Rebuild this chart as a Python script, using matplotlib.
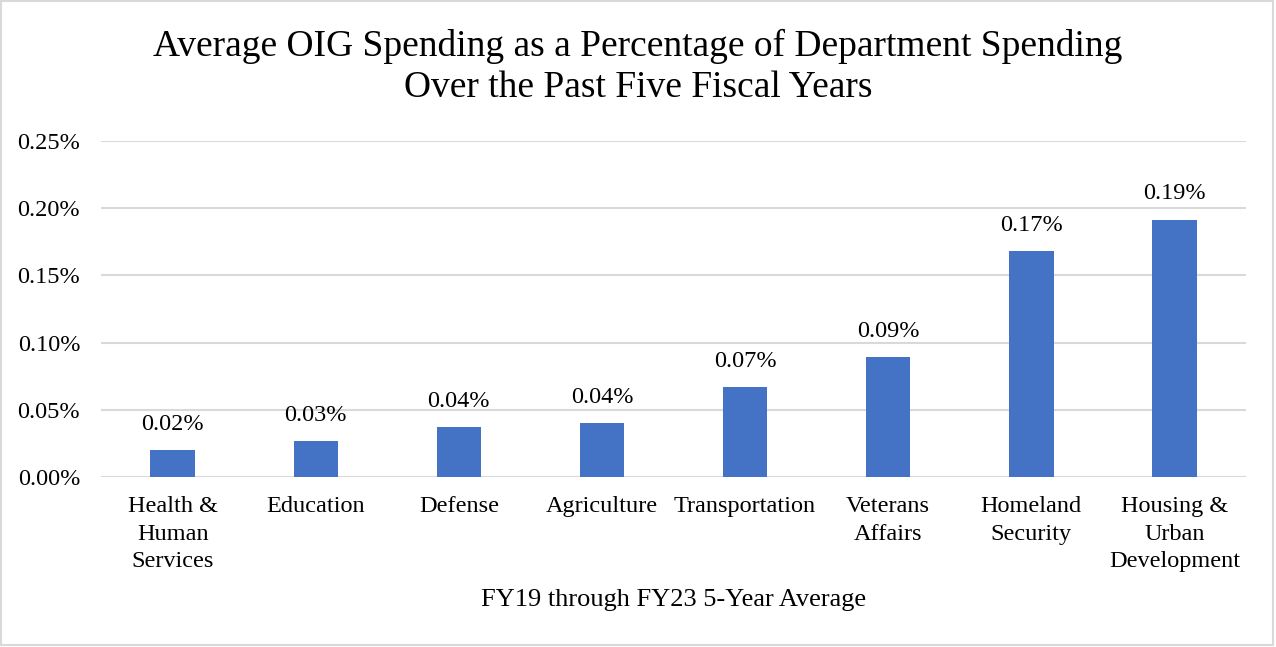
import matplotlib.pyplot as plt
from matplotlib.patches import Rectangle
from matplotlib.ticker import FuncFormatter

plt.rcParams['font.family'] = ['Liberation Serif', 'DejaVu Serif']

departments = ["Health &\nHuman\nServices", "Education", "Defense", "Agriculture",
               "Transportation", "Veterans\nAffairs", "Homeland\nSecurity",
               "Housing &\nUrban\nDevelopment"]
pct_values = [0.0201, 0.0268, 0.0372, 0.0402, 0.0670, 0.0893, 0.1683, 0.1915]
y_ticks = [0.00, 0.05, 0.10, 0.15, 0.20, 0.25]

fig = plt.figure(figsize=(12.76, 6.47), dpi=100)
ax = fig.add_axes([0.0792, 0.2628, 0.8973, 0.5193])

x = range(len(departments))
bars = ax.bar(x, pct_values, width=0.31, color='#4472C4', zorder=3)

# data labels above the bars
for rect, v in zip(bars, pct_values):
    ax.annotate(f"{v:.2f}%", (rect.get_x() + rect.get_width() / 2, rect.get_height()),
                xytext=(0, 11), textcoords='offset points',
                ha='center', va='bottom', fontsize=17.5)

ax.set_xlim(-0.5, len(departments) - 0.5)
ax.set_ylim(0, 0.25)
ax.set_yticks(y_ticks)
ax.yaxis.set_major_formatter(FuncFormatter(lambda v, p: f"{v:.2f}%"))
ax.set_xticks(list(x))
ax.set_xticklabels(departments, fontsize=17.5, linespacing=1.4)
ax.tick_params(axis='y', labelsize=17.5, length=0, pad=15)
ax.tick_params(axis='x', length=0, pad=14)
ax.grid(axis='y', color='#d9d9d9', linewidth=1.5, zorder=0)
for s in ax.spines.values():
    s.set_visible(False)

ax.set_xlabel("FY19 through FY23 5-Year Average", fontsize=19, labelpad=12)
fig.text(0.5, 0.897, "Average OIG Spending as a Percentage of Department Spending\nOver the Past Five Fiscal Years",
         ha='center', va='center', fontsize=27, linespacing=1.25)

# light frame around the chart
fig.patches.append(Rectangle((0.001, 0.003), 0.997, 0.995, transform=fig.transFigure,
                             fill=False, edgecolor='#d9d9d9', linewidth=1.5))

fig.savefig("out.png", dpi=100)
